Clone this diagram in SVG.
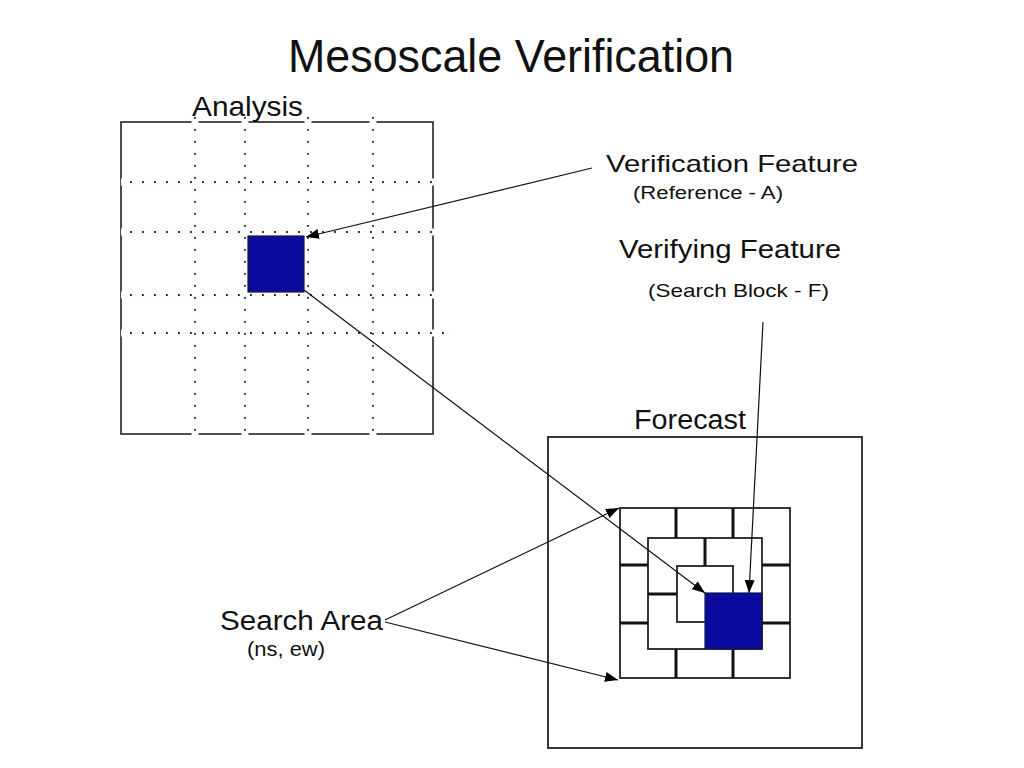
<svg xmlns="http://www.w3.org/2000/svg" width="1024" height="768" viewBox="0 0 1024 768">
<defs>
<style>
text{font-family:"Liberation Sans",Arial,sans-serif;fill:#111;}
.frame{fill:none;stroke:#222;stroke-width:1.6;}
.band{stroke:#fdfdfd;stroke-width:7;fill:none;}
.dots{stroke:#222;stroke-width:1.8;stroke-dasharray:1.8 10.2;fill:none;}
.box{fill:none;stroke:#222;stroke-width:1.8;}
.thick{stroke:#111;stroke-width:3;fill:none;}
.blue{fill:#0a0a9e;stroke:#1a1a40;stroke-width:1.2;}
.conn{stroke:#111;stroke-width:1.2;fill:none;marker-end:url(#ah);}
</style>
<marker id="ah" markerUnits="userSpaceOnUse" markerWidth="14" markerHeight="10" refX="13" refY="5" orient="auto">
<path d="M0,0 L13,5 L0,10 z" fill="#000"/>
</marker>
</defs>
<rect width="1024" height="768" fill="#fff"/>
<text id="title" x="288" y="72" font-size="46" textLength="446" lengthAdjust="spacingAndGlyphs">Mesoscale Verification</text>

<g id="analysis">
<rect class="frame" x="121" y="122" width="312" height="312"/>
<g class="band">
<line x1="121" y1="182" x2="437" y2="182"/>
<line x1="121" y1="232" x2="437" y2="232"/>
<line x1="121" y1="295" x2="437" y2="295"/>
<line x1="121" y1="333" x2="452" y2="333"/>
<line x1="195" y1="117" x2="195" y2="438"/>
<line x1="245" y1="117" x2="245" y2="438"/>
<line x1="308" y1="117" x2="308" y2="438"/>
<line x1="373" y1="117" x2="373" y2="438"/>
</g>
<g class="dots">
<line x1="130" y1="182" x2="437" y2="182"/>
<line x1="130" y1="232" x2="437" y2="232"/>
<line x1="130" y1="295" x2="437" y2="295"/>
<line x1="130" y1="333" x2="452" y2="333"/>
<line x1="195" y1="117" x2="195" y2="438"/>
<line x1="245" y1="117" x2="245" y2="438"/>
<line x1="308" y1="117" x2="308" y2="438"/>
<line x1="373" y1="117" x2="373" y2="438"/>
</g>
<text x="192" y="116" font-size="28" textLength="111" lengthAdjust="spacingAndGlyphs">Analysis</text>
<rect class="blue" x="248" y="236" width="56" height="56"/>
</g>

<g id="forecast">
<rect class="box" x="548" y="437" width="314" height="311"/>
<text x="634" y="429" font-size="27" textLength="112" lengthAdjust="spacingAndGlyphs">Forecast</text>
<rect class="box" x="620" y="508" width="170" height="170"/>
<rect class="box" x="648" y="538" width="114" height="111"/>
<rect class="box" x="677" y="566" width="56" height="56"/>
<g class="thick">
<line x1="676" y1="508" x2="676" y2="538"/>
<line x1="733" y1="508" x2="733" y2="538"/>
<line x1="676" y1="649" x2="676" y2="678"/>
<line x1="733" y1="649" x2="733" y2="678"/>
<line x1="620" y1="565" x2="648" y2="565"/>
<line x1="762" y1="565" x2="790" y2="565"/>
<line x1="620" y1="623" x2="648" y2="623"/>
<line x1="762" y1="623" x2="790" y2="623"/>
<line x1="705" y1="538" x2="705" y2="566"/>
<line x1="648" y1="594" x2="677" y2="594"/>
</g>
<rect class="blue" x="705" y="593" width="57" height="56"/>
</g>

<g id="labels">
<text x="606" y="172" font-size="24" textLength="252" lengthAdjust="spacingAndGlyphs">Verification Feature</text>
<text x="633" y="199" font-size="18" textLength="150" lengthAdjust="spacingAndGlyphs">(Reference - A)</text>
<text x="619" y="258" font-size="25" textLength="222" lengthAdjust="spacingAndGlyphs">Verifying Feature</text>
<text x="648" y="297" font-size="19" textLength="181" lengthAdjust="spacingAndGlyphs">(Search Block - F)</text>
<text x="220" y="630" font-size="27" textLength="163" lengthAdjust="spacingAndGlyphs">Search Area</text>
<text x="247" y="656" font-size="20" textLength="78" lengthAdjust="spacingAndGlyphs">(ns, ew)</text>
</g>

<g id="connectors">
<line class="conn" x1="592" y1="168" x2="306" y2="237"/>
<line class="conn" x1="304" y1="290" x2="705" y2="593"/>
<line class="conn" x1="763" y1="322" x2="749" y2="593"/>
<line class="conn" x1="385" y1="620" x2="619" y2="508"/>
<line class="conn" x1="385" y1="622" x2="618" y2="680"/>
</g>
</svg>
